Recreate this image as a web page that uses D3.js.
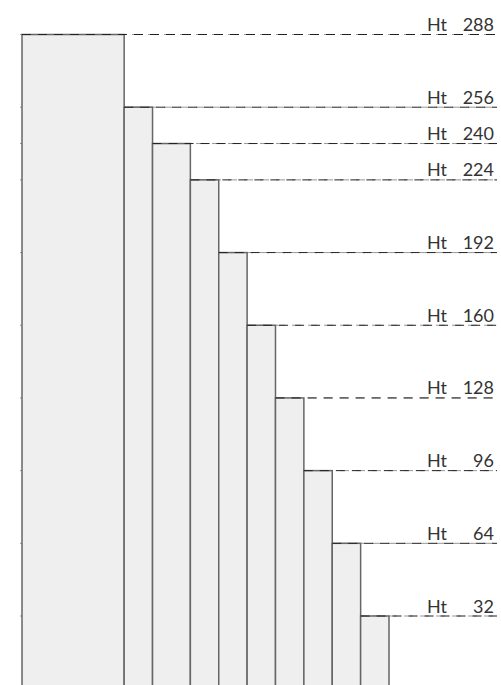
<!DOCTYPE html>
<html>
<head>
<meta charset="utf-8">
<script src="https://cdn.jsdelivr.net/npm/d3@7"></script>
<style>
  html, body { margin: 0; padding: 0; background: #fff; }
  svg { display: block; }
</style>
</head>
<body>
<svg id="chart" width="501" height="685"></svg>
<script>
const heights = [288, 256, 240, 224, 192, 160, 128, 96, 64, 32];
const widths  = [108, 30, 40, 30, 30, 30, 30, 30, 30, 30];
const labelPrefix = "Ht";

const svg = d3.select("#chart");

const cum = [0];
widths.forEach((w, i) => cum.push(cum[i] + w));
const x = d3.scaleLinear().domain([0, d3.sum(widths)]).range([22, 389]);
const y = d3.scaleLinear().domain([0, 288]).range([688.7, 34.5]);

const data = heights.map((h, i) => ({ h, x0: cum[i], x1: cum[i + 1] }));

const lineEnd = 497;
// background guide lines (behind bars)
svg.append("g").selectAll("line").data(data).join("line")
  .attr("x1", 20).attr("x2", lineEnd)
  .attr("y1", d => y(d.h)).attr("y2", d => y(d.h))
  .attr("stroke", "#999").attr("stroke-width", 1)
  .attr("stroke-dasharray", "9,7");

// bars
svg.append("g").selectAll("rect").data(data).join("rect")
  .attr("x", d => x(d.x0))
  .attr("y", d => y(d.h))
  .attr("width", d => x(d.x1) - x(d.x0))
  .attr("height", d => y(0) - y(d.h) + 5)
  .attr("fill", "#efefef")
  .attr("stroke", "#666")
  .attr("stroke-width", 1.5);

// dashed lines on top, from each bar's left edge to label
svg.append("g").selectAll("line").data(data).join("line")
  .attr("x1", d => x(d.x0)).attr("x2", lineEnd)
  .attr("y1", d => y(d.h)).attr("y2", d => y(d.h))
  .attr("stroke", "#222").attr("stroke-width", 1)
  .attr("stroke-dasharray", "9,7");

// labels
const lab = svg.append("g")
  .attr("font-family", "Lato, 'Open Sans', sans-serif")
  .attr("font-size", 18)
  .attr("fill", "#333");
lab.selectAll("text.p").data(data).join("text")
  .attr("class", "p")
  .attr("x", 427).attr("y", d => y(d.h) - 3.5)
  .text(labelPrefix);
lab.selectAll("text.n").data(data).join("text")
  .attr("class", "n")
  .attr("x", 494).attr("y", d => y(d.h) - 3.5)
  .attr("text-anchor", "end")
  .text(d => d.h);
</script>
</body>
</html>
